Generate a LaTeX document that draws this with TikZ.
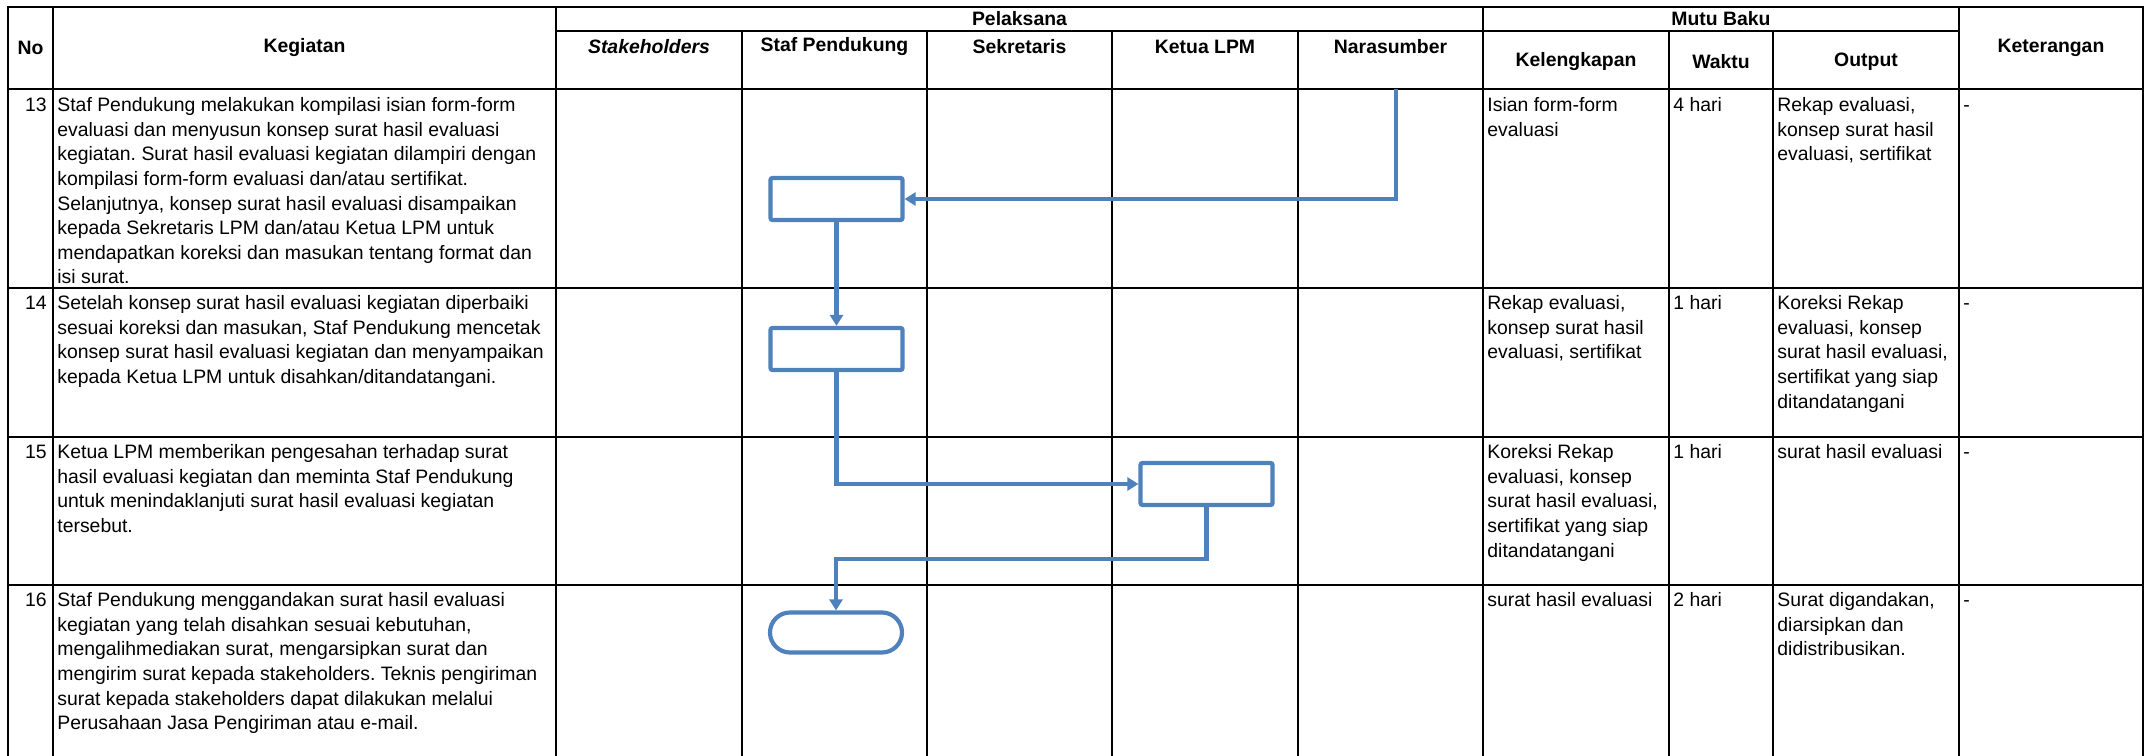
\documentclass[tikz,border=0pt]{standalone}
\usepackage{fontspec}
\setmainfont{Liberation Sans}
\usetikzlibrary{arrows.meta,shapes.misc}
\definecolor{flowblue}{RGB}{79,129,189}
\newcommand\cellfont{\fontsize{9.7}{12.3}\selectfont}
\frenchspacing
\begin{document}
\begin{tikzpicture}[x=0.5pt,y=-0.5pt,
  grid/.style={line width=1.25pt, line cap=rect},
  hdr/.style={font=\bfseries\cellfont, inner sep=0pt},
  cell/.style={anchor=north west, inner sep=0pt, align=left, font=\cellfont},
  num/.style={anchor=north east, inner sep=0pt, font=\cellfont},
  procbox/.style={draw=flowblue, line width=2.1pt, rounded corners=1pt, minimum width=66pt, minimum height=21pt, inner sep=0pt},
  termbox/.style={rounded rectangle, draw=flowblue, line width=2.1pt, minimum width=66pt, minimum height=20pt, inner sep=0pt},
  flow/.style={draw=flowblue, line width=2.1pt, -{Triangle[length=5.5pt,width=6.5pt]}}]
\useasboundingbox (0,0) rectangle (2151,755);
\fill[white] (0,0) rectangle (2151,755);

% table grid
\draw[grid] (8,7) -- (2143,7);
\draw[grid] (556,31) -- (1959,31);
\draw[grid] (8,89) -- (2143,89);
\foreach \y in {288,437,585} \draw[grid] (8,\y) -- (2143,\y);
\foreach \x in {8,53,556,1483,1959,2143} \draw[grid] (\x,7) -- (\x,755);
\foreach \x in {742,927,1112,1298,1669,1773} \draw[grid] (\x,31) -- (\x,755);

% headers
\node[hdr] (hno) at (30.5,48) {No};
\node[hdr] (hkeg) at (304.5,48) {Kegiatan};
\node[hdr] (hpel) at (1019.5,19) {Pelaksana};
\node[hdr] (hstk) at (649,47) {\itshape Stakeholders};
\node[hdr] (hstaf) at (834.5,47) {Staf Pendukung};
\node[hdr] (hsek) at (1019.5,47) {Sekretaris};
\node[hdr] (hket) at (1205,47) {Ketua LPM};
\node[hdr] (hnar) at (1390.5,47) {Narasumber};
\node[hdr] (hmutu) at (1721,19) {Mutu Baku};
\node[hdr] (hkel) at (1576,62) {Kelengkapan};
\node[hdr] (hwak) at (1721,62) {Waktu};
\node[hdr] (hout) at (1866,62) {Output};
\node[hdr] (hketr) at (2051,48) {Keterangan};

% row 13
\node[num] (n13) at (47,94) {\strut 13};
\node[cell] (k13) at (57,94) {\strut Staf Pendukung melakukan kompilasi isian form-form\\evaluasi dan menyusun konsep surat hasil evaluasi\\kegiatan. Surat hasil evaluasi kegiatan dilampiri dengan\\kompilasi form-form evaluasi dan/atau sertifikat.\\Selanjutnya, konsep surat hasil evaluasi disampaikan\\kepada Sekretaris LPM dan/atau Ketua LPM untuk\\mendapatkan koreksi dan masukan tentang format dan\\isi surat.};
\node[cell] (kl13) at (1487,94) {\strut Isian form-form\\evaluasi};
\node[cell] (w13) at (1673,94) {\strut 4 hari};
\node[cell] (o13) at (1777,94) {\strut Rekap evaluasi,\\konsep surat hasil\\evaluasi, sertifikat};
\node[cell] (r13) at (1963,94) {\strut -};

% row 14
\node[num] (n14) at (47,292) {\strut 14};
\node[cell] (k14) at (57,292) {\strut Setelah konsep surat hasil evaluasi kegiatan diperbaiki\\sesuai koreksi dan masukan, Staf Pendukung mencetak\\konsep surat hasil evaluasi kegiatan dan menyampaikan\\kepada Ketua LPM untuk disahkan/ditandatangani.};
\node[cell] (kl14) at (1487,292) {\strut Rekap evaluasi,\\konsep surat hasil\\evaluasi, sertifikat};
\node[cell] (w14) at (1673,292) {\strut 1 hari};
\node[cell] (o14) at (1777,292) {\strut Koreksi Rekap\\evaluasi, konsep\\surat hasil evaluasi,\\sertifikat yang siap\\ditandatangani};
\node[cell] (r14) at (1963,292) {\strut -};

% row 15
\node[num] (n15) at (47,441) {\strut 15};
\node[cell] (k15) at (57,441) {\strut Ketua LPM memberikan pengesahan terhadap surat\\hasil evaluasi kegiatan dan meminta Staf Pendukung\\untuk menindaklanjuti surat hasil evaluasi kegiatan\\tersebut.};
\node[cell] (kl15) at (1487,441) {\strut Koreksi Rekap\\evaluasi, konsep\\surat hasil evaluasi,\\sertifikat yang siap\\ditandatangani};
\node[cell] (w15) at (1673,441) {\strut 1 hari};
\node[cell] (o15) at (1777,441) {\strut surat hasil evaluasi};
\node[cell] (r15) at (1963,441) {\strut -};

% row 16
\node[num] (n16) at (47,589) {\strut 16};
\node[cell] (k16) at (57,589) {\strut Staf Pendukung menggandakan surat hasil evaluasi\\kegiatan yang telah disahkan sesuai kebutuhan,\\mengalihmediakan surat, mengarsipkan surat dan\\mengirim surat kepada stakeholders. Teknis pengiriman\\surat kepada stakeholders dapat dilakukan melalui\\Perusahaan Jasa Pengiriman atau e-mail.};
\node[cell] (kl16) at (1487,589) {\strut surat hasil evaluasi};
\node[cell] (w16) at (1673,589) {\strut 2 hari};
\node[cell] (o16) at (1777,589) {\strut Surat digandakan,\\diarsipkan dan\\didistribusikan.};
\node[cell] (r16) at (1963,589) {\strut -};

% flow shapes
\node[procbox] (b1) at (836.5,199) {};
\node[procbox] (b2) at (836.5,349) {};
\node[procbox] (b3) at (1206.5,484) {};
\node[termbox] (t) at (836,632.5) {};
\coordinate (n0) at (1396,89);
\coordinate (c1) at (1206.5,559);

\draw[flow] (n0) |- (b1.east);
\draw[flow] (b1) -- (b2);
\draw[flow] (b2.south) |- (b3.west);
\draw[flow] (b3.south) -- (c1) -| (t.north);
\end{tikzpicture}
\end{document}
